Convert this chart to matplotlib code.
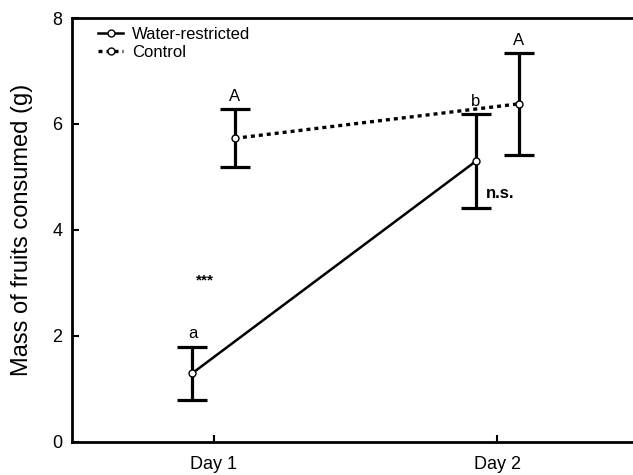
import matplotlib.pyplot as plt

plt.rcParams['font.family'] = ['Liberation Sans', 'DejaVu Sans']

# data
days = ['Day 1', 'Day 2']
waterMean = [1.30, 5.30]
waterErr = [0.50, 0.88]
controlMean = [5.73, 6.38]
controlErr = [0.55, 0.96]
waterLetters = ['a', 'b']
controlLetters = ['A', 'A']
signif = ['***', 'n.s.']

xpos = [1, 2]
offset = 0.075
xWater = [x - offset for x in xpos]
xControl = [x + offset for x in xpos]

fig = plt.figure(figsize=(6.33, 4.75), dpi=100)
ax = fig.add_axes([0.1137, 0.0695, 0.8958, 0.8926])

ax.errorbar(xWater, waterMean, yerr=waterErr, fmt='none', ecolor='black',
            elinewidth=2.3, capsize=10.8, capthick=2.3, zorder=2)
ax.errorbar(xControl, controlMean, yerr=controlErr, fmt='none', ecolor='black',
            elinewidth=2.3, capsize=10.8, capthick=2.3, zorder=2)

ax.plot(xWater, waterMean, color='black', linestyle='-', linewidth=1.8,
        marker='o', ms=5, mfc='white', mec='black', mew=1.0,
        label='Water-restricted', zorder=3)
ax.plot(xControl, controlMean, color='black', linestyle=(0, (1.2, 1.2)), linewidth=2.4,
        marker='o', ms=5, mfc='white', mec='black', mew=1.0,
        label='Control', zorder=3)

# letters above the error bars
for i in range(len(xpos)):
    ax.text(xWater[i], waterMean[i] + waterErr[i] + 0.1, waterLetters[i],
            ha='center', va='bottom', fontsize=12)
    ax.text(xControl[i], controlMean[i] + controlErr[i] + 0.1, controlLetters[i],
            ha='center', va='bottom', fontsize=12)

ax.text(0.97, 3.04, signif[0], ha='center', va='center', fontsize=11, fontweight='bold')
ax.text(1.96, 4.68, signif[1], ha='left', va='center', fontsize=12, fontweight='bold')

ax.set_xlim(0.5, 2.5)
ax.set_ylim(0, 8)
ax.set_xticks(xpos)
ax.set_xticklabels(days)
ax.set_yticks([0, 2, 4, 6, 8])
ax.tick_params(direction='in', length=5, width=1.5, labelsize=13)
ax.tick_params(axis='y', pad=7)
ax.tick_params(axis='x', pad=10)
ax.set_ylabel('Mass of fruits consumed (g)', fontsize=17)
ax.yaxis.set_label_coords(-0.069, 0.5)

for side in ['left', 'bottom', 'top']:
    ax.spines[side].set_linewidth(2)
ax.spines['right'].set_visible(False)

ax.legend(loc='upper left', frameon=False, fontsize=12, handlelength=1.5,
          handletextpad=0.5, labelspacing=0.2, borderaxespad=0.0,
          bbox_to_anchor=(0.035, 0.995))

fig.savefig('out.png', dpi=100)
